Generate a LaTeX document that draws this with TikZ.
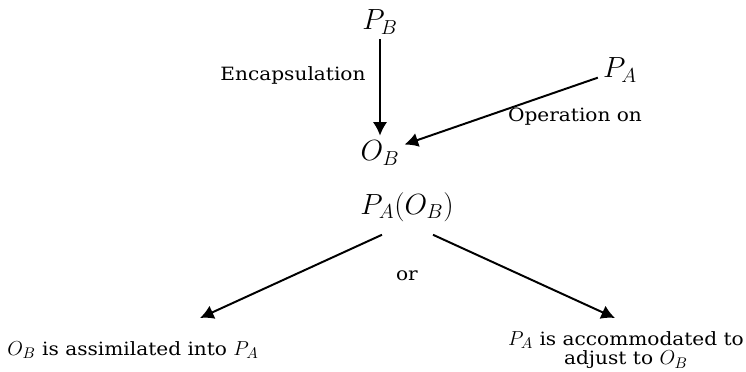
\documentclass[tikz,border=0pt]{standalone}
\usepackage{fontspec}
\setmainfont{DejaVu Serif}[FakeStretch=1.1]
\usetikzlibrary{arrows.meta, calc}
\newcommand{\mth}[1]{{\fontsize{15}{15}\selectfont$#1$}}
\tikzset{
  every picture/.style={line width=1.4pt},
  arrow/.style={-{Latex[length=3.4mm, width=3.6mm]}, draw=black},
  sym/.style={font=\fontsize{20}{22}\selectfont, inner sep=3pt},
  lbl/.style={font=\fontsize{13}{14}\selectfont, align=center, inner sep=1pt},
}
\begin{document}
\begin{tikzpicture}[x=0.025cm, y=-0.025cm]
  \useasboundingbox (0,0) rectangle (746,371);
  % upper part
  \node[sym] (PB) at (380,22) {$P_B$};
  \node[sym] (OB) at (380,153) {$O_B$};
  \node[sym] (PA) at (620,70) {$P_A$};
  \draw[arrow] (PB) -- (OB);
  \draw[arrow] (PA) -- (OB);
  \node[lbl] (enc) at (293,75) {Encapsulation};
  \node[lbl] (op) at (575,117) {Operation on};
  % lower part
  \node[sym, font=\fontsize{22}{24}\selectfont] (PAOB) at (407,207) {$P_A(O_B)$};
  \node[lbl] (or) at (407,276) {or};
  \coordinate (lt) at (200,318);
  \coordinate (rt) at (615,318);
  \draw[arrow] ($(PAOB.south)+(-25,8)$) -- (lt);
  \draw[arrow] ($(PAOB.south)+(26,8)$) -- (rt);
  \node[lbl] (assim) at (133,350) {\mth{O_B} is assimilated into \mth{P_A}};
  \node[lbl] (accom) at (626,350) {\mth{P_A} is accommodated to\\adjust to \mth{O_B}};
\end{tikzpicture}
\end{document}
